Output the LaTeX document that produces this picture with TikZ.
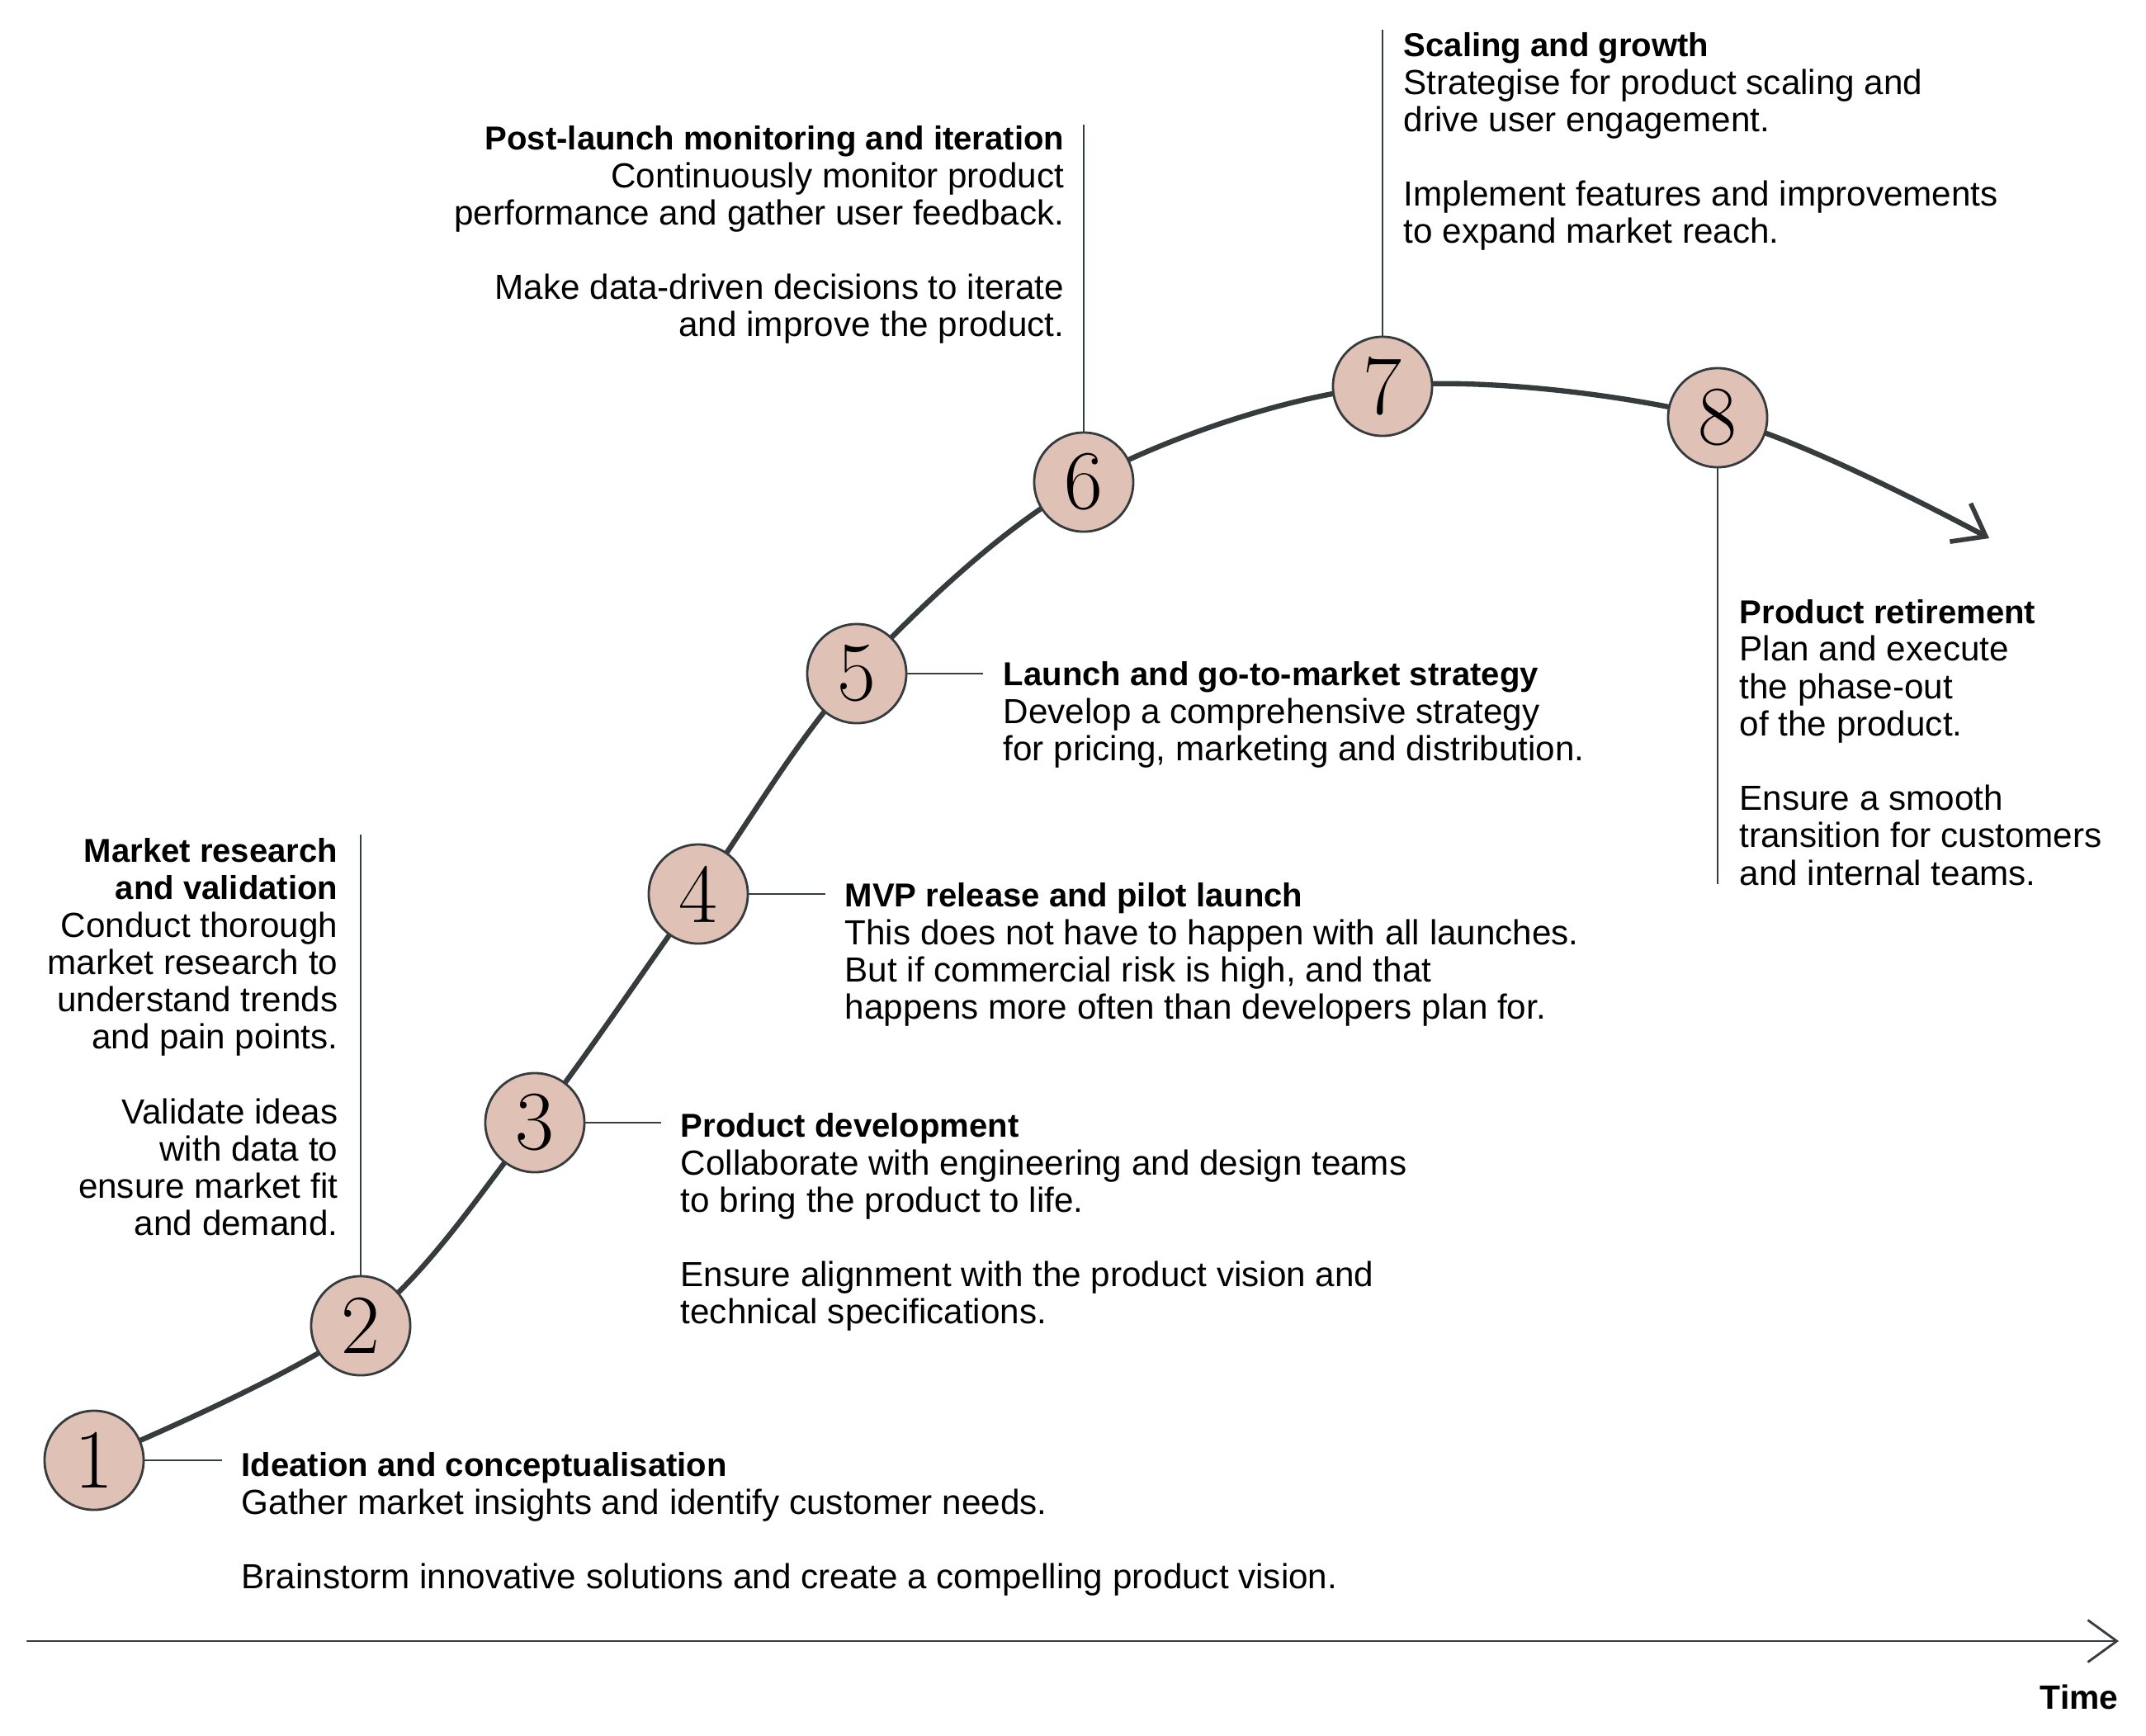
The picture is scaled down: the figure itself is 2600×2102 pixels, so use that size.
\documentclass[tikz,border=0pt]{standalone}
\usepackage{fontspec}
\setsansfont{Liberation Sans}
\usetikzlibrary{arrows.meta}
\definecolor{circfill}{HTML}{E0C1B5}
\definecolor{linec}{HTML}{363B3E}
\newcommand\steptitle[1]{{\fontsize{11.4}{12.85}\selectfont\bfseries #1}}
\begin{document}
\begin{tikzpicture}[x=0.01cm,y=-0.01cm,
  stage/.style={circle, draw=linec, line width=0.8pt, fill=circfill, minimum size=1.2cm, inner sep=0pt, font=\rmfamily\fontsize{29}{30}\selectfont},
  desc/.style={font=\sffamily\fontsize{12}{12.85}\selectfont, inner sep=0pt},
  curve/.style={draw=linec, line width=1.8pt, line cap=round},
  lead/.style={draw=linec, line width=0.6pt},
  axisline/.style={draw=linec, line width=0.8pt, line cap=round},
  ]
\useasboundingbox (0,0) rectangle (2600,2102);
\coordinate (p1) at (114,1769);
\coordinate (p2) at (437,1606);
\coordinate (p3) at (648,1360);
\coordinate (p4) at (846,1083);
\coordinate (p5) at (1038,816);
\coordinate (p6) at (1313,584);
\coordinate (p7) at (1675,468);
\coordinate (p8) at (2081,506);
\coordinate (pend) at (2410,652);
\draw[curve, -{Straight Barb[length=10pt,width=15pt,line width=1.6pt]}] plot[smooth, tension=0.55] coordinates {(p1) (p2) (p3) (p4) (p5) (p6) (p7) (p8) (pend)};
\foreach \i in {1,...,8} { \node[stage] (s\i) at (p\i) {\i}; }
% leader lines
\coordinate (l1) at (269,1769);
\coordinate (l2) at (437,1011);
\coordinate (l3) at (801,1360);
\coordinate (l4) at (1000,1083);
\coordinate (l5) at (1191,816);
\coordinate (l6) at (1313,151);
\coordinate (l7) at (1675,36);
\coordinate (l8) at (2081,1071);
\draw[lead] (s1.east) -- (l1);
\draw[lead] (s2.north) -- (l2);
\draw[lead] (s3.east) -- (l3);
\draw[lead] (s4.east) -- (l4);
\draw[lead] (s5.east) -- (l5);
\draw[lead] (s6.north) -- (l6);
\draw[lead] (s7.north) -- (l7);
\draw[lead] (s8.south) -- (l8);
% texts (anchored at the baseline of their last line)
\node[desc, anchor=base west, align=left] (t1) at (292,1924.5) {\steptitle{Ideation and conceptualisation}\\ Gather market insights and identify customer needs.\\[12.85pt] Brainstorm innovative solutions and create a compelling product vision.};
\node[desc, anchor=base east, align=right] (t2) at (410,1496.6) {\steptitle{Market research}\\ \steptitle{and validation}\\ Conduct thorough\\ market research to\\ understand trends\\ and pain points.\\[12.85pt] Validate ideas\\ with data to\\ ensure market fit\\ and demand.};
\node[desc, anchor=base west, align=left] (t3) at (824,1603.8) {\steptitle{Product development}\\ Collaborate with engineering and design teams\\ to bring the product to life.\\[12.85pt] Ensure alignment with the product vision and\\ technical specifications.};
\node[desc, anchor=base west, align=left] (t4) at (1023,1234.5) {\steptitle{MVP release and pilot launch}\\ This does not have to happen with all launches.\\ But if commercial risk is high, and that\\ happens more often than developers plan for.};
\node[desc, anchor=base west, align=left] (t5) at (1215,921.3) {\steptitle{Launch and go-to-market strategy}\\ Develop a comprehensive strategy\\ for pricing, marketing and distribution.};
\node[desc, anchor=base east, align=right] (t6) at (1290,407.8) {\steptitle{Post-launch monitoring and iteration}\\ Continuously monitor product\\ performance and gather user feedback.\\[12.85pt] Make data-driven decisions to iterate\\ and improve the product.};
\node[desc, anchor=base west, align=left] (t7) at (1700,294.8) {\steptitle{Scaling and growth}\\ Strategise for product scaling and\\ drive user engagement.\\[12.85pt] Implement features and improvements\\ to expand market reach.};
\node[desc, anchor=base west, align=left] (t8) at (2107,1072) {\steptitle{Product retirement}\\ Plan and execute\\ the phase-out\\ of the product.\\[12.85pt] Ensure a smooth\\ transition for customers\\ and internal teams.};
% time axis
\coordinate (ax0) at (33,1988);
\coordinate (ax1) at (2567,1988);
\draw[axisline, -{Straight Barb[length=10pt,width=14.5pt,line width=0.8pt]}] (ax0) -- (ax1);
\node[desc, font=\sffamily\bfseries\fontsize{11.6}{12.85}\selectfont, anchor=base east] (time) at (2567,2070) {Time};
\end{tikzpicture}
\end{document}
